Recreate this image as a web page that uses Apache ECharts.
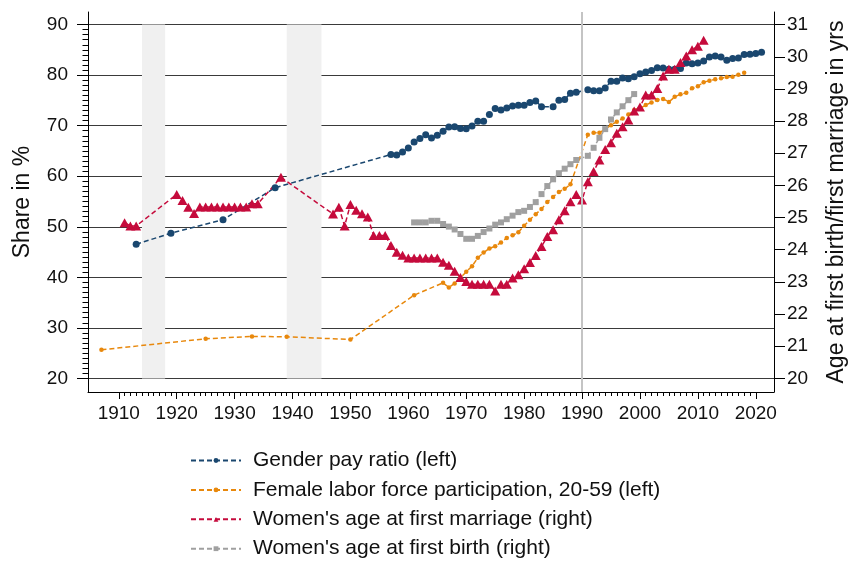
<!DOCTYPE html>
<html><head><meta charset="utf-8">
<script src="https://cdn.jsdelivr.net/npm/echarts@6/dist/echarts.min.js"></script>
<style>html,body{margin:0;padding:0;background:#fff}#c{width:856px;height:563px}</style>
</head><body><div id="c"></div>
<script>
const FONT = '"Liberation Sans", Arial, sans-serif';
const xTicks = [1910,1920,1930,1940,1950,1960,1970,1980,1990,2000,2010,2020];
const leftTicks = [20,30,40,50,60,70,80,90];
const rightTicks = [20,21,22,23,24,25,26,27,28,29,30,31];
const xMinorTicks = []; for (let y = 1910; y <= 2020; y++) if (y % 10) xMinorTicks.push(y);
const leftMinorTicks = []; for (let v = 20; v <= 90; v++) if (v % 10) leftMinorTicks.push(v);
const warPeriods = [[1914,1918],[1939,1945]];
const reunification = 1990;

const payYears = [1913,1919,1928,1937,1957,1958,1959,1960,1961,1962,1963,1964,1965,1966,1967,1968,1969,1970,1971,1972,1973,1974,1975,1976,1977,1978,1979,1980,1981,1982,1983,1985,1986,1987,1988,1989,1991,1992,1993,1994,1995,1996,1997,1998,1999,2000,2001,2002,2003,2004,2005,2006,2007,2008,2009,2010,2011,2012,2013,2014,2015,2016,2017,2018,2019,2020,2021];
const payValues = [46.55,48.72,51.4,57.73,64.3,64.2,64.8,65.6,66.75,67.45,68.2,67.55,68.1,68.9,69.75,69.8,69.45,69.4,69.95,70.9,70.9,72.2,73.4,73.1,73.5,73.9,74.05,74.05,74.6,74.9,73.75,73.75,75.05,75.2,76.4,76.6,77.1,76.9,76.9,77.45,78.8,78.8,79.45,79.3,79.7,80.25,80.64,80.9,81.45,81.43,81.15,81.15,81.3,82.4,82.25,82.4,82.78,83.6,83.8,83.6,82.95,83.28,83.4,84.07,84.13,84.3,84.55];

const lfpYears = [1907,1925,1933,1939,1950,1961,1966,1967,1968,1969,1970,1971,1972,1973,1974,1975,1976,1977,1978,1979,1980,1981,1982,1983,1984,1985,1986,1987,1988,1991,1992,1993,1994,1995,1996,1997,1998,1999,2000,2001,2002,2003,2004,2005,2006,2007,2008,2009,2010,2011,2012,2013,2014,2015,2016,2017,2018];
const lfpValues = [25.67,27.84,28.3,28.24,27.7,36.47,38.9,38.0,38.8,39.9,41.1,42.2,43.85,44.9,45.7,46.15,46.9,47.8,48.3,48.9,50.2,51.4,52.5,53.5,54.9,55.9,56.9,57.5,58.4,68.2,68.6,68.6,69.3,70.1,70.8,71.4,72.2,73.1,73.4,74.1,74.6,75.1,75.3,74.7,75.7,76.2,76.5,77.4,77.8,78.6,78.9,79.2,79.4,79.65,79.7,80.1,80.45];

const marriageYears = [1911,1912,1913,1920,1921,1922,1923,1924,1925,1926,1927,1928,1929,1930,1931,1932,1933,1934,1938,1947,1948,1949,1950,1951,1952,1953,1954,1955,1956,1957,1958,1959,1960,1961,1962,1963,1964,1965,1966,1967,1968,1969,1970,1971,1972,1973,1974,1975,1976,1977,1978,1979,1980,1981,1982,1983,1984,1985,1986,1987,1988,1989,1990,1991,1992,1993,1994,1995,1996,1997,1998,1999,2000,2001,2002,2003,2004,2005,2006,2007,2008,2009,2010,2011];
const marriageValues = [24.84,24.74,24.74,25.72,25.53,25.32,25.13,25.33,25.33,25.33,25.33,25.33,25.33,25.33,25.33,25.33,25.43,25.43,26.25,25.11,25.32,24.74,25.41,25.23,25.12,25.02,24.44,24.44,24.44,24.13,23.92,23.83,23.74,23.74,23.74,23.74,23.74,23.74,23.61,23.52,23.33,23.14,23.01,22.93,22.93,22.93,22.93,22.72,22.93,22.93,23.12,23.22,23.41,23.6,23.82,24.1,24.41,24.62,24.93,25.21,25.49,25.72,25.55,26.11,26.43,26.79,27.12,27.33,27.62,27.82,28.03,28.31,28.44,28.81,28.81,29.01,29.4,29.61,29.61,29.82,30.02,30.22,30.33,30.51];

const birthYears = [1961,1962,1963,1964,1965,1966,1967,1968,1969,1970,1971,1972,1973,1974,1975,1976,1977,1978,1979,1980,1981,1982,1983,1984,1985,1986,1987,1988,1989,1991,1992,1993,1994,1995,1996,1997,1998,1999];
const birthValues = [24.85,24.85,24.85,24.9,24.9,24.8,24.72,24.63,24.49,24.34,24.34,24.43,24.55,24.66,24.78,24.85,24.95,25.06,25.17,25.21,25.33,25.48,25.73,25.98,26.19,26.38,26.52,26.66,26.79,26.92,27.17,27.48,27.75,28.05,28.27,28.46,28.65,28.84];

const seriesNames = ['Gender pay ratio (left)','Female labor force participation, 20-59 (left)',"Women's age at first marriage (right)","Women's age at first birth (right)"];
const colors = ['#1a476f','#e8880c','#c50b3c','#a0a0a0'];

const pairs = (xs, ys) => xs.map((x, i) => [x, ys[i]]);
const XMIN = 1904.68, XMAX = 2023.15, YMIN = 17.31, YMAX = 92.49;
const toRight = v => 20 + (v - 20) * 11 / 70;

function lineSeries(idx, yAxisIndex, data, symbol, size) {
  return {
    name: seriesNames[idx], type: 'line', xAxisIndex: 0, yAxisIndex, data,
    symbol, symbolSize: size, showSymbol: true, z: 3, animation: false,
    itemStyle: { color: colors[idx] },
    lineStyle: { color: colors[idx], width: 1.5, type: [5, 3] },
    emphasis: { disabled: true }
  };
}

const chart = echarts.init(document.getElementById('c'), null, { renderer: 'canvas' });
chart.setOption({
  backgroundColor: '#fff',
  animation: false,
  textStyle: { fontFamily: FONT },
  grid: { left: 88, right: 77, top: 12, bottom: 171 },
  legend: {
    orient: 'vertical', left: 190, top: 450, height: 113, padding: 0,
    itemWidth: 50, itemHeight: 6, itemGap: 8.4,
    data: seriesNames,
    textStyle: { fontSize: 21, color: '#111', fontFamily: FONT, padding: [0, 0, 0, 7] }
  },
  xAxis: [
    { type: 'value', min: XMIN, max: XMAX, position: 'bottom',
      axisLine: { show: true, onZero: false, lineStyle: { color: '#000', width: 1 } },
      axisTick: { show: true, customValues: xTicks, length: 7, lineStyle: { color: '#000' } },
      axisLabel: { customValues: xTicks, formatter: v => String(v), fontSize: 19, color: '#111', margin: 12, fontFamily: FONT },
      splitLine: { show: false } },
    { type: 'value', min: XMIN, max: XMAX, position: 'bottom',
      axisLine: { show: false, onZero: false },
      axisTick: { show: true, customValues: xMinorTicks, length: 4, lineStyle: { color: '#000' } },
      axisLabel: { show: false }, splitLine: { show: false } }
  ],
  yAxis: [
    { type: 'value', min: YMIN, max: YMAX, position: 'left',
      name: 'Share in %', nameLocation: 'middle', nameGap: 54, nameRotate: 90,
      nameTextStyle: { fontSize: 23, color: '#111', fontFamily: FONT },
      axisLine: { show: true, onZero: false, lineStyle: { color: '#000', width: 1 } },
      axisTick: { show: true, customValues: leftTicks, length: 11, lineStyle: { color: '#000' } },
      axisLabel: { customValues: leftTicks, formatter: v => String(v), fontSize: 19, color: '#111', margin: 20, fontFamily: FONT },
      splitLine: { show: true, lineStyle: { color: '#3a3a3a', width: 1 } } },
    { type: 'value', min: toRight(YMIN), max: toRight(YMAX), position: 'right',
      name: 'Age at first birth/first marriage in yrs', nameLocation: 'middle', nameGap: 51, nameRotate: 90,
      nameTextStyle: { fontSize: 23, color: '#111', fontFamily: FONT },
      axisLine: { show: true, onZero: false, lineStyle: { color: '#000', width: 1 } },
      axisTick: { show: true, customValues: rightTicks, length: 11, lineStyle: { color: '#000' } },
      axisLabel: { customValues: rightTicks, formatter: v => String(v), fontSize: 19, color: '#111', margin: 13, fontFamily: FONT },
      splitLine: { show: false } },
    { type: 'value', min: YMIN, max: YMAX, position: 'left',
      axisLine: { show: false, onZero: false },
      axisTick: { show: true, customValues: leftMinorTicks, length: 5.5, lineStyle: { color: '#000' } },
      axisLabel: { show: false }, splitLine: { show: false } }
  ],
  series: [
    { type: 'line', xAxisIndex: 0, yAxisIndex: 0, data: [], z: 1, silent: true,
      markArea: { silent: true, itemStyle: { color: '#f0f0f0', opacity: 1 },
        data: warPeriods.map(p => [{ xAxis: p[0], yAxis: leftTicks[0] }, { xAxis: p[1], yAxis: leftTicks[leftTicks.length - 1] }]) },
      markLine: { silent: true, symbol: 'none', label: { show: false },
        lineStyle: { color: '#c4c4c4', width: 2, type: 'solid' },
        data: [{ xAxis: reunification }] } },
    lineSeries(0, 0, pairs(payYears, payValues), 'circle', 7),
    lineSeries(1, 0, pairs(lfpYears, lfpValues), 'circle', 4.5),
    lineSeries(2, 1, pairs(marriageYears, marriageValues), 'triangle', [10, 9]),
    lineSeries(3, 1, pairs(birthYears, birthValues), 'rect', 6)
  ]
});
</script></body></html>
